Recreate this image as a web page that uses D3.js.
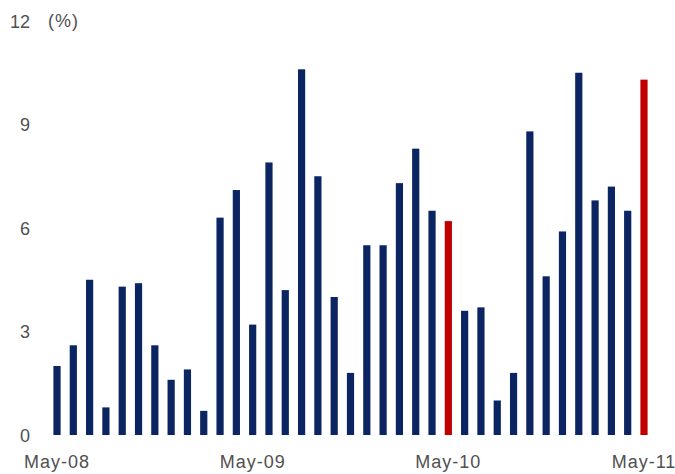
<!DOCTYPE html>
<html>
<head>
<meta charset="utf-8">
<script src="https://cdn.jsdelivr.net/npm/d3@7"></script>
<style>
  html, body { margin: 0; padding: 0; background: #ffffff; }
  svg { display: block; }
  text { font-family: Arial, "Liberation Sans", sans-serif; fill: #505050; }
</style>
</head>
<body>
<svg id="chart" width="675" height="474"></svg>
<script>
// Monthly data, May-08 .. May-11
const months = ["May-08","Jun-08","Jul-08","Aug-08","Sep-08","Oct-08","Nov-08","Dec-08",
  "Jan-09","Feb-09","Mar-09","Apr-09","May-09","Jun-09","Jul-09","Aug-09","Sep-09","Oct-09",
  "Nov-09","Dec-09","Jan-10","Feb-10","Mar-10","Apr-10","May-10","Jun-10","Jul-10","Aug-10",
  "Sep-10","Oct-10","Nov-10","Dec-10","Jan-11","Feb-11","Mar-11","Apr-11","May-11"];
const values = [2.0, 2.6, 4.5, 0.8, 4.3, 4.4, 2.6, 1.6, 1.9, 0.7, 6.3, 7.1, 3.2, 7.9, 4.2, 10.6, 7.5, 4.0,
  1.8, 5.5, 5.5, 7.3, 8.3, 6.5, 6.2, 3.6, 3.7, 1.0, 1.8, 8.8, 4.6, 5.9, 10.5, 6.8, 7.2, 6.5, 10.3];
const highlighted = ["May-10", "May-11"];
const yTicks = [0, 3, 6, 9, 12];
const xTickLabels = ["May-08", "May-09", "May-10", "May-11"];
const unitLabel = "(%)";

const svg = d3.select("#chart");
const step = (644 - 57) / 36;
const x = d3.scaleBand()
  .domain(months)
  .range([57 - step / 2, 644 + step / 2])
  .paddingInner(1 - 7.2 / step)
  .paddingOuter((1 - 7.2 / step) / 2);
const y = d3.scaleLinear().domain([0, 12]).range([435, 21]);

const navy = "#0b2462", red = "#c00000";

svg.append("g").selectAll("rect")
  .data(months.map((m, i) => ({ m, v: values[i] })))
  .join("rect")
  .attr("x", d => x(d.m))
  .attr("width", x.bandwidth())
  .attr("y", d => y(d.v))
  .attr("height", d => y(0) - y(d.v))
  .attr("fill", d => highlighted.includes(d.m) ? red : navy);

// Y axis (labels only)
const yAxis = d3.axisLeft(y).tickValues(yTicks).tickSize(0).tickPadding(0);
const gy = svg.append("g").attr("transform", "translate(30,0)").call(yAxis);
gy.select(".domain").remove();
gy.selectAll("text")
  .attr("font-size", 18)
  .attr("font-family", "Arial, 'Liberation Sans', sans-serif")
  .attr("fill", "#505050")
  .attr("dy", "0.36em");

svg.append("text")
  .attr("x", 48).attr("y", y(12))
  .attr("dy", "0.36em")
  .attr("font-size", 18)
  .attr("letter-spacing", 1)
  .text(unitLabel);

// X axis (labels only)
const xAxis = d3.axisBottom(x).tickValues(xTickLabels).tickSize(0).tickPadding(0);
const gx = svg.append("g").attr("transform", "translate(0,455)").call(xAxis);
gx.select(".domain").remove();
gx.selectAll("text")
  .attr("font-size", 18)
  .attr("font-family", "Arial, 'Liberation Sans', sans-serif")
  .attr("fill", "#505050")
  .attr("letter-spacing", 1)
  .attr("dy", "0.71em");
</script>
</body>
</html>
